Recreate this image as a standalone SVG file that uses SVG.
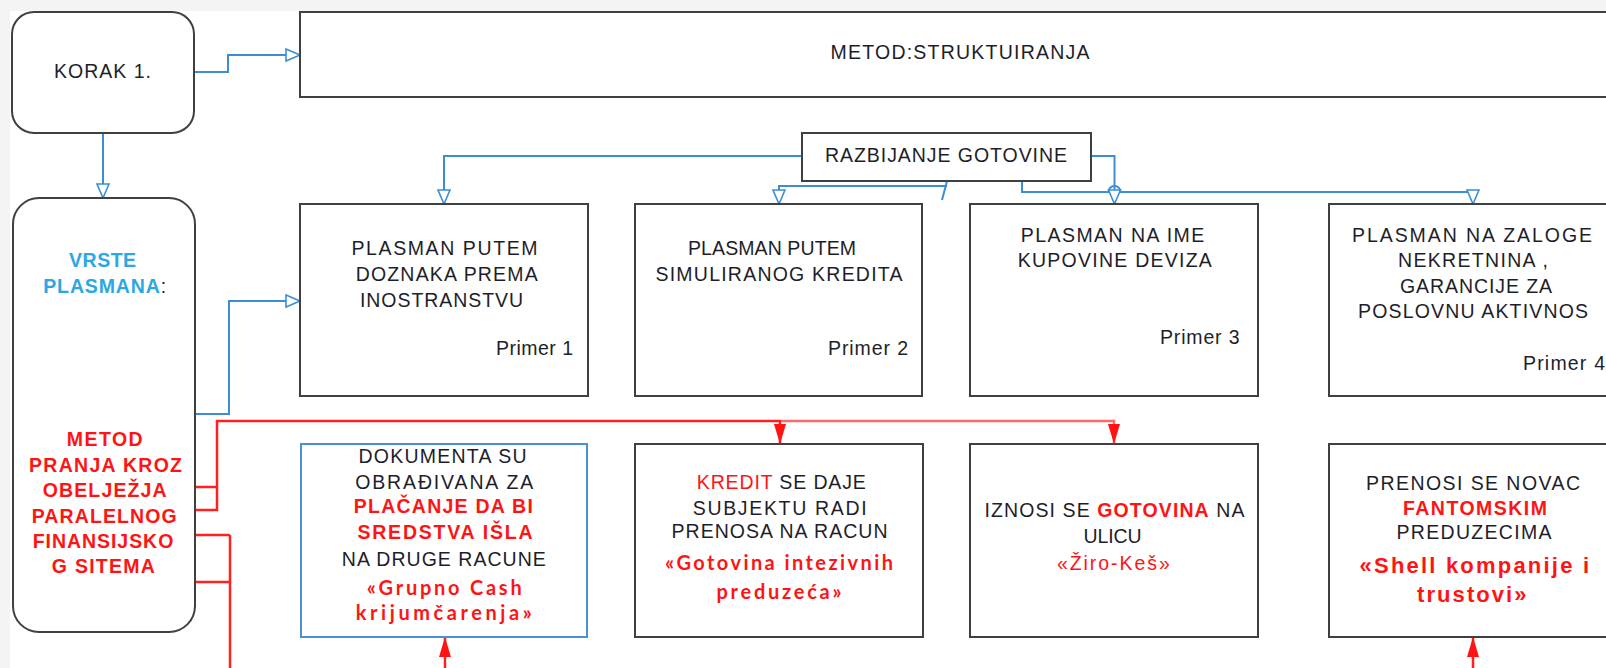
<svg xmlns="http://www.w3.org/2000/svg" width="1606" height="668" viewBox="0 0 1606 668">
<style>
.box{fill:#fff;stroke:#404040;stroke-width:2}
.bbox{fill:#fff;stroke:#4a90d2;stroke-width:2}
.t{font-family:"Liberation Sans",Arial,sans-serif;font-size:19.5px;fill:#1e1e2a;text-anchor:middle}
.e{text-anchor:end}
.r{fill:#ff1414}
.rb{fill:#ff1414;font-weight:bold}
.vb{fill:#2aa8e2;font-weight:bold}
.q{font-family:Lato,"Liberation Sans",sans-serif;font-weight:bold;font-size:20px;fill:#ff1414;text-anchor:middle}
.sh{font-family:"Liberation Sans",Arial,sans-serif;font-weight:bold;font-size:22px;fill:#ff1414;text-anchor:middle}
.bl{stroke:#3b8ed6;stroke-width:2;fill:none}
.rd{stroke:#ff2020;stroke-width:2.5;fill:none}
.rl{stroke:#ff6a6a;stroke-width:2.5;fill:none}
</style>
<defs>
<marker id="ob" markerUnits="userSpaceOnUse" viewBox="0 0 16 14" refX="15" refY="7" markerWidth="16" markerHeight="14" orient="auto" overflow="visible">
<path d="M1,1 L15,7 L1,13 Z" fill="#fff" stroke="#3b8ed6" stroke-width="1.6"/>
</marker>
<marker id="fr" markerUnits="userSpaceOnUse" viewBox="0 0 20 12" refX="20" refY="6" markerWidth="20" markerHeight="12" orient="auto" overflow="visible">
<path d="M0,0 L20,6 L0,12 Z" fill="#ff1414"/>
</marker>
</defs>
<rect x="0" y="0" width="1606" height="668" fill="#f4f4f4"/>
<rect x="10" y="11" width="1596" height="657" fill="#fff"/>

<g id="connectors">
<path class="bl" d="M194,72 H228 V55 H300" marker-end="url(#ob)"/>
<path class="bl" d="M103,133 V198" marker-end="url(#ob)"/>
<path class="bl" d="M195,414 H229 V301 H300" marker-end="url(#ob)"/>
<path class="bl" d="M802,156 H444 V204" marker-end="url(#ob)"/>
<path class="bl" d="M947,181 L942,200"/>
<path class="bl" d="M947,186 H779 V204" marker-end="url(#ob)"/>
<path class="bl" d="M1091,156 H1114.5 V204" marker-end="url(#ob)"/>
<path class="bl" d="M1022,181 V192 H1108.5 A6,6 0 0 1 1120.5,192 H1473 V204" marker-end="url(#ob)"/>
<path class="rd" d="M195,487 H217 M195,510 H217 V421 H780 V444" marker-end="url(#fr)"/>
<path class="rl" d="M781,421 H1114 V444" marker-end="url(#fr)"/>
<path class="rd" d="M195,535 H230 M195,582 H230 M230,535 V668"/>
<path class="rd" d="M445,668 V637" marker-end="url(#fr)"/>
<path class="rd" d="M1473,668 V637" marker-end="url(#fr)"/>
</g>

<g id="korak">
<rect class="box" x="12" y="12" width="182" height="121" rx="22"/>
<text class="t" x="102.5" y="78" textLength="97">KORAK 1.</text>
</g>

<g id="metod">
<rect class="box" x="300" y="12" width="1330" height="85"/>
<text class="t" x="960" y="59" textLength="259">METOD:STRUKTUIRANJA</text>
</g>

<g id="razbijanje">
<rect class="box" x="802" y="133" width="289" height="48"/>
<text class="t" x="946" y="162" textLength="242">RAZBIJANJE GOTOVINE</text>
</g>

<g id="vrste">
<rect class="box" x="13" y="198" width="182" height="434" rx="26"/>
<text class="t vb" x="102.6" y="267" textLength="67">VRSTE</text>
<text class="t" x="104.7" y="293" textLength="123"><tspan class="vb">PLASMANA</tspan>:</text>
<text class="t rb" x="104.7" y="446" textLength="76">METOD</text>
<text class="t rb" x="105.5" y="472" textLength="153">PRANJA KROZ</text>
<text class="t rb" x="104.7" y="497" textLength="124">OBELJEŽJA</text>
<text class="t rb" x="104.2" y="523" textLength="145">PARALELNOG</text>
<text class="t rb" x="103" y="548" textLength="140.6">FINANSIJSKO</text>
<text class="t rb" x="103.3" y="573" textLength="103">G SITEMA</text>
</g>

<g id="plasman1">
<rect class="box" x="300" y="204" width="288" height="192"/>
<text class="t" x="444.5" y="254.5" textLength="186">PLASMAN PUTEM</text>
<text class="t" x="446.7" y="281" textLength="182">DOZNAKA PREMA</text>
<text class="t" x="441.5" y="307" textLength="163">INOSTRANSTVU</text>
<text class="t e" x="573" y="355" textLength="77">Primer 1</text>
</g>

<g id="plasman2">
<rect class="box" x="635" y="204" width="287" height="192"/>
<text class="t" x="772" y="254.5" textLength="168">PLASMAN PUTEM</text>
<text class="t" x="779" y="281" textLength="247">SIMULIRANOG KREDITA</text>
<text class="t e" x="908" y="355" textLength="80">Primer 2</text>
</g>

<g id="plasman3">
<rect class="box" x="970" y="204" width="288" height="192"/>
<text class="t" x="1112.5" y="242" textLength="183.5">PLASMAN NA IME</text>
<text class="t" x="1114.8" y="267" textLength="194">KUPOVINE DEVIZA</text>
<text class="t e" x="1239.5" y="344" textLength="79.5">Primer 3</text>
</g>

<g id="plasman4">
<rect class="box" x="1329" y="204" width="300" height="192"/>
<text class="t" x="1472" y="241.5" textLength="240">PLASMAN NA ZALOGE</text>
<text class="t" x="1473" y="267" textLength="150">NEKRETNINA ,</text>
<text class="t" x="1476" y="292.5" textLength="152">GARANCIJE ZA</text>
<text class="t" x="1473" y="317.5" textLength="230">POSLOVNU AKTIVNOS</text>
<text class="t e" x="1605" y="370" textLength="82">Primer 4</text>
</g>

<g id="grupno">
<rect class="bbox" x="301" y="444" width="286" height="193"/>
<text class="t" x="442.5" y="463.3" textLength="168">DOKUMENTA SU</text>
<text class="t" x="444.2" y="489.3" textLength="178">OBRAĐIVANA ZA</text>
<text class="t rb" x="443.3" y="513.3" textLength="179">PLAČANJE DA BI</text>
<text class="t rb" x="445" y="539.3" textLength="175">SREDSTVA IŠLA</text>
<text class="t" x="443.8" y="565.7" textLength="204">NA DRUGE RACUNE</text>
<text class="q" x="444.2" y="595" textLength="155">«Grupno Cash</text>
<text class="q" x="443.8" y="620" textLength="176">krijumčarenja»</text>
</g>

<g id="kredit">
<rect class="box" x="635" y="444" width="288" height="193"/>
<text class="t" x="781.3" y="489.3" textLength="169"><tspan class="r">KREDIT</tspan> SE DAJE</text>
<text class="t" x="779.7" y="515" textLength="174">SUBJEKTU RADI</text>
<text class="t" x="779.5" y="538.3" textLength="216">PRENOSA NA RACUN</text>
<text class="q" x="779" y="570" textLength="228">«Gotovina intezivnih</text>
<text class="q" x="779" y="599" textLength="125">preduzeća»</text>
</g>

<g id="ziro">
<rect class="box" x="970" y="444" width="288" height="193"/>
<text class="t" x="1114.5" y="517.3" textLength="260">IZNOSI SE <tspan class="rb">GOTOVINA</tspan> NA</text>
<text class="t" x="1112.5" y="543.3" textLength="58">ULICU</text>
<text class="t r" x="1113.4" y="570" textLength="113">«Žiro-Keš»</text>
</g>

<g id="shell">
<rect class="box" x="1329" y="444" width="300" height="193"/>
<text class="t" x="1473" y="490" textLength="214">PRENOSI SE NOVAC</text>
<text class="t rb" x="1475" y="515" textLength="144">FANTOMSKIM</text>
<text class="t" x="1474" y="539.3" textLength="155">PREDUZECIMA</text>
<text class="sh" x="1474.3" y="573.3" textLength="229.5">«Shell kompanije i</text>
<text class="sh" x="1471.8" y="601.7" textLength="109.5">trustovi»</text>
</g>
</svg>
